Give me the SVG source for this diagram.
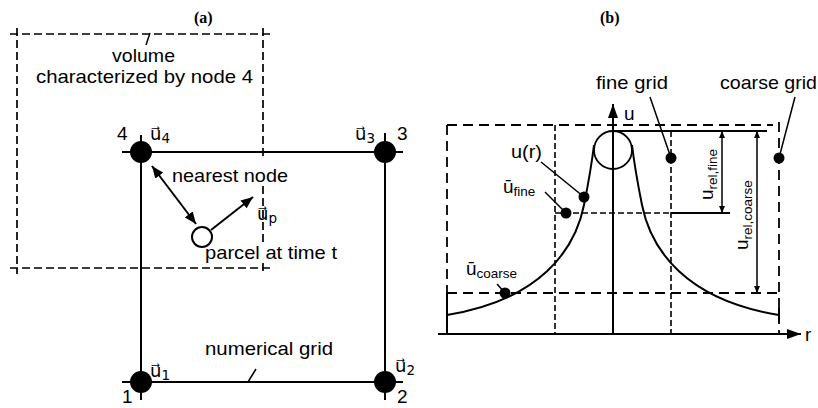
<svg xmlns="http://www.w3.org/2000/svg" width="818" height="408" viewBox="0 0 818 408">
<style>
.t{font-family:"Liberation Sans",Arial,sans-serif;font-size:19px;fill:#000}
.v{font-family:"DejaVu Sans","Liberation Sans",sans-serif;font-size:18px;fill:#000}
.s{font-size:13.5px}
.lbl{font-family:"Liberation Serif","Times New Roman",serif;font-weight:bold;font-size:16px;fill:#000}
.ln{stroke:#000;stroke-width:2;fill:none}
.thin{stroke:#000;stroke-width:1.5;fill:none}
.dv{stroke:#000;stroke-width:1.7;fill:none;stroke-dasharray:8 4}
.dc{stroke:#000;stroke-width:1.8;fill:none;stroke-dasharray:10 6}
.df{stroke:#000;stroke-width:1.6;fill:none;stroke-dasharray:6 3}
.node{fill:#000}
</style>
<defs>
<marker id="ah" viewBox="0 0 12 10" refX="12" refY="5" markerWidth="12" markerHeight="10" markerUnits="userSpaceOnUse" orient="auto-start-reverse"><path d="M0,0 L12,5 L0,10 z" fill="#000"/></marker>
<marker id="ax" viewBox="0 0 14 10" refX="14" refY="5" markerWidth="14" markerHeight="10" markerUnits="userSpaceOnUse" orient="auto"><path d="M0,0 L14,5 L0,10 z" fill="#000"/></marker>
<marker id="sm" viewBox="0 0 7 6" refX="7" refY="3" markerWidth="7" markerHeight="6" markerUnits="userSpaceOnUse" orient="auto-start-reverse"><path d="M0,0 L7,3 L0,6 z" fill="#000"/></marker>
</defs>

<!-- (a) -->
<text class="lbl" x="194" y="23">(a)</text>

<g id="volume">
<path class="dv" d="M10,34 H272 M17,28 V274 M10,268 H270 M263,28 V160 M263,186 V242 M263,263 V275"/>
<path class="thin" d="M150,33 L146,45"/>
<text class="t" x="112" y="62" textLength="63" lengthAdjust="spacingAndGlyphs">volume</text>
<text class="t" x="36" y="83" textLength="217" lengthAdjust="spacingAndGlyphs">characterized by node 4</text>
</g>

<g id="grid">
<path class="ln" d="M122,152 H403 M122,382 H403 M141,135 V400 M385,133 V400"/>
<path class="thin" d="M256,369 L248,382"/>
<text class="t" x="205" y="355" textLength="128" lengthAdjust="spacingAndGlyphs">numerical grid</text>
</g>

<g id="node4">
<circle class="node" cx="141" cy="152" r="11"/>
<text class="t" x="117" y="140">4</text>
<text class="v" x="150" y="140">u⃗<tspan class="s" dy="3">4</tspan></text>
</g>
<g id="node3">
<circle class="node" cx="385" cy="152" r="11"/>
<text class="t" x="397" y="140">3</text>
<text class="v" x="355" y="140">u⃗<tspan class="s" dy="3">3</tspan></text>
</g>
<g id="node1">
<circle class="node" cx="141" cy="382" r="11"/>
<text class="t" x="122" y="403">1</text>
<text class="v" x="150" y="377">u⃗<tspan class="s" dy="3">1</tspan></text>
</g>
<g id="node2">
<circle class="node" cx="385" cy="382" r="11"/>
<text class="t" x="397" y="403">2</text>
<text class="v" x="395" y="372">u⃗<tspan class="s" dy="3">2</tspan></text>
</g>

<g id="parcel">
<circle cx="202" cy="237" r="10" fill="#fff" stroke="#000" stroke-width="2"/>
<text class="t" x="205" y="259" textLength="132" lengthAdjust="spacingAndGlyphs">parcel at time t</text>
<text class="v" x="257" y="220">u⃗<tspan class="s" dy="3">p</tspan></text>
</g>

<g id="connectors-a">
<line class="ln" x1="152" y1="166" x2="196" y2="224" marker-start="url(#ah)" marker-end="url(#ah)"/>
<line class="ln" x1="211" y1="230" x2="253" y2="197" marker-end="url(#ah)"/>
<text class="t" x="172" y="182" textLength="116" lengthAdjust="spacingAndGlyphs">nearest node</text>
</g>

<!-- (b) -->
<text class="lbl" x="600" y="23">(b)</text>

<g id="coarse-grid">
<path class="dc" d="M447,125 H773 M447,125 V293 M779,122 V334"/>
<path class="dc" d="M447,293 H779"/>
<path class="ln" d="M447,293 V334 M779,308 V322"/>
<circle class="node" cx="779" cy="158" r="5.5"/>
<path class="thin" d="M795,97 L779,158"/>
<text class="t" x="720" y="89" textLength="97" lengthAdjust="spacingAndGlyphs">coarse grid</text>
</g>

<g id="fine-grid">
<path class="df" d="M555,125 V334 M671,131 V334 M555,213 H671"/>
<circle class="node" cx="671" cy="158" r="5.5"/>
<path class="thin" d="M650,97 L671,158"/>
<text class="t" x="596" y="89" textLength="72" lengthAdjust="spacingAndGlyphs">fine grid</text>
</g>

<g id="axes">
<line class="ln" x1="613" y1="334" x2="613" y2="104" marker-end="url(#ax)"/>
<line class="ln" x1="438" y1="334" x2="801" y2="334" marker-end="url(#ax)"/>
<text class="t" x="624" y="120">u</text>
<text class="t" x="805" y="341">r</text>
</g>

<g id="profile">
<circle cx="613" cy="150" r="19" fill="none" stroke="#000" stroke-width="1.8"/>
<path class="ln" d="M594,145 C591,170 588,185 584,205 C575,250 540,300 447,315"/>
<path class="ln" d="M632,145 C635,170 638,185 642,205 C651,250 686,300 779,315"/>
<path class="ln" d="M613,131 H767 M671,213 H730"/>
</g>

<g id="dimensions">
<line class="thin" x1="722" y1="131" x2="722" y2="213" marker-start="url(#sm)" marker-end="url(#sm)"/>
<line class="thin" x1="757" y1="131" x2="757" y2="293" marker-start="url(#sm)" marker-end="url(#sm)"/>
<text class="t" transform="translate(713,200) rotate(-90)">u<tspan class="s" dy="4">rel,fine</tspan></text>
<text class="t" transform="translate(748,250) rotate(-90)">u<tspan class="s" dy="4">rel,coarse</tspan></text>
</g>

<g id="means">
<circle class="node" cx="584" cy="197" r="5.5"/>
<circle class="node" cx="566" cy="213" r="5.5"/>
<circle class="node" cx="505" cy="293" r="5.5"/>
<path class="thin" d="M541,162 L584,197 M545,192 L565,212 M497,284 L505,293"/>
<text class="t" x="511" y="158" textLength="31" lengthAdjust="spacingAndGlyphs">u(r)</text>
<text class="t" x="503" y="193">ū<tspan class="s" dy="3">fine</tspan></text>
<text class="t" x="466" y="275">ū<tspan class="s" dy="3">coarse</tspan></text>
</g>
</svg>
